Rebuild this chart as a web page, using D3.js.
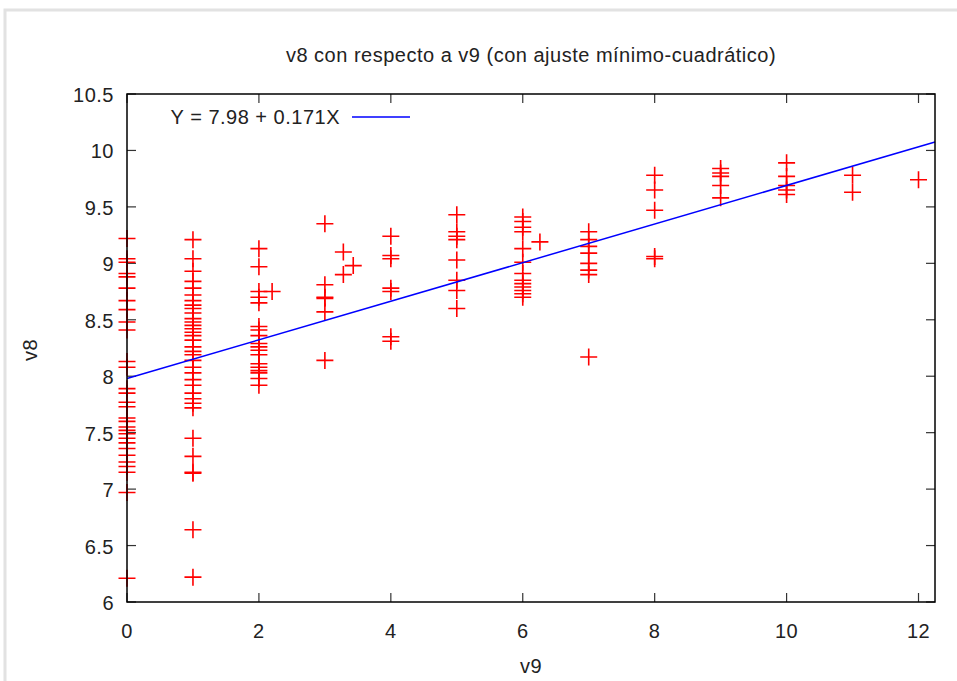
<!DOCTYPE html>
<html>
<head>
<meta charset="utf-8">
<script src="https://cdn.jsdelivr.net/npm/d3@7"></script>
<style>
  body { margin: 0; background: #fff; }
  text { font-family: "Liberation Sans", Arial, sans-serif; fill: #222; font-size: 20px; letter-spacing: 0.5px; }
</style>
</head>
<body>
<div id="chart"></div>
<script>
//************* data ***************/
var v9 = [
  0,0,0,0,0,0,0,0,0,0,0,0,0,0,0,0,0,0,0,0,0,0,0,0,0,0,0,0,0,0,
  1,1,1,1,1,1,1,1,1,1,1,1,1,1,1,1,1,1,1,1,1,1,1,1,1,1,1,1,1,1,1,1,1,1,1,
  2,2,2,2,2,2,2,2,2,2,2,2,2,2,2,2,2,2, 2.2,
  3,3,3,3,3,3, 3.28,3.28, 3.43,
  4,4,4,4,4,4,4,
  5,5,5,5,5,5,5,5,
  6,6,6,6,6,6,6,6,6,6,6,6,6, 6.26,
  7,7,7,7,7,7,7,7,
  8,8,8,8,8,
  9,9,9,9,9,
  10,10,10,10,10,
  11,11,
  12
];
var v8 = [
  9.22,9.04,9.01,8.91,8.88,8.78,8.67,8.59,8.48,8.41,8.13,8.08,7.89,7.85,7.77,7.73,7.63,7.60,7.55,7.52,7.49,7.45,7.41,7.36,7.30,7.24,7.20,7.15,6.97,6.21,
  9.21,9.04,8.93,8.84,8.78,8.72,8.67,8.63,8.60,8.56,8.51,8.48,8.45,8.42,8.39,8.36,8.32,8.26,8.22,8.19,8.14,8.08,8.03,7.97,7.92,7.85,7.80,7.76,7.72,7.45,7.29,7.15,7.14,6.64,6.22,
  9.13,8.97,8.75,8.70,8.65,8.44,8.41,8.36,8.29,8.26,8.23,8.19,8.11,8.08,8.05,8.03,7.98,7.92, 8.75,
  9.35,8.81,8.70,8.69,8.57,8.14, 9.10,8.90, 8.98,
  9.24,9.07,9.04,8.78,8.75,8.35,8.31,
  9.43,9.28,9.24,9.21,9.03,8.85,8.76,8.60,
  9.41,9.37,9.32,9.28,9.13,9.01,8.91,8.85,8.82,8.79,8.76,8.73,8.70, 9.19,
  9.28,9.21,9.15,9.09,9.00,8.94,8.90,8.17,
  9.78,9.65,9.47,9.06,9.04,
  9.84,9.80,9.77,9.69,9.58,
  9.89,9.77,9.69,9.65,9.61,
  9.78,9.63,
  9.74
];

var xTicks = [0, 2, 4, 6, 8, 10, 12];
var yTicks = [6, 6.5, 7, 7.5, 8, 8.5, 9, 9.5, 10, 10.5];
var fitA = 7.98, fitB = 0.171;
var titleText = "v8 con respecto a v9 (con ajuste mínimo-cuadrático)";
var legendText = "Y = 7.98 + 0.171X";

//************* set dimensions ***************/
var W = 957, H = 681;
var margin = {left: 127, right: 22, top: 94, bottom: 79};

var svg = d3.select("#chart").append("svg")
    .attr("width", W).attr("height", H);

// page frame
svg.append("rect")
    .attr("x", 5).attr("y", 10).attr("width", W + 10).attr("height", H + 10)
    .attr("fill", "#fff").attr("stroke", "#e2e2e2").attr("stroke-width", 3);

//************* scales ***************/
var x = d3.scaleLinear().domain([0, 12.25]).range([margin.left, W - margin.right]);
var y = d3.scaleLinear().domain([6, 10.5]).range([H - margin.bottom, margin.top]);

// ticks (inward, mirrored)
var tl = 9;
var g = svg.append("g").attr("stroke", "#333").attr("stroke-width", 1.2);
xTicks.forEach(function(t){
  g.append("line").attr("x1", x(t)).attr("x2", x(t)).attr("y1", y(6)).attr("y2", y(6) - tl);
  g.append("line").attr("x1", x(t)).attr("x2", x(t)).attr("y1", y(10.5)).attr("y2", y(10.5) + tl);
});
yTicks.forEach(function(t){
  g.append("line").attr("x1", x(0)).attr("x2", x(0) + tl).attr("y1", y(t)).attr("y2", y(t));
  g.append("line").attr("x1", x(12.25)).attr("x2", x(12.25) - tl).attr("y1", y(t)).attr("y2", y(t));
});

// tick labels
svg.append("g").selectAll("text").data(xTicks).enter().append("text")
    .attr("x", function(d){ return x(d); })
    .attr("y", y(6) + 36)
    .attr("text-anchor", "middle")
    .text(function(d){ return d; });
svg.append("g").selectAll("text").data(yTicks).enter().append("text")
    .attr("x", x(0) - 13)
    .attr("y", function(d){ return y(d) + 8; })
    .attr("text-anchor", "end")
    .text(function(d){ return d; });

// points
var cs = 8.5;
svg.append("g").selectAll("path").data(v9).enter().append("path")
    .attr("d", function(d, i){
      var px = x(d), py = y(v8[i]);
      return "M" + (px - cs) + "," + py + "H" + (px + cs) + "M" + px + "," + (py - cs) + "V" + (py + cs);
    })
    .attr("stroke", "#ff0000").attr("stroke-width", 1.6).attr("fill", "none");

// fit line
svg.append("line")
    .attr("x1", x(0)).attr("y1", y(fitA))
    .attr("x2", x(12.25)).attr("y2", y(fitA + fitB * 12.25))
    .attr("stroke", "#0000ff").attr("stroke-width", 1.5);

// border
svg.append("rect")
    .attr("x", x(0)).attr("y", y(10.5))
    .attr("width", x(12.25) - x(0)).attr("height", y(6) - y(10.5))
    .attr("fill", "none").attr("stroke", "#000").attr("stroke-width", 1.5);

// legend
svg.append("text").attr("x", 340).attr("y", 124).attr("text-anchor", "end")
    .text(legendText);
svg.append("line").attr("x1", 352).attr("x2", 410).attr("y1", 117).attr("y2", 117)
    .attr("stroke", "#0000ff").attr("stroke-width", 1.5);

// title & axis labels
svg.append("text").attr("x", (x(0) + x(12.25)) / 2).attr("y", 62).attr("text-anchor", "middle")
    .text(titleText);
svg.append("text").attr("x", (x(0) + x(12.25)) / 2).attr("y", 673).attr("text-anchor", "middle")
    .text("v9");
svg.append("text").attr("transform", "translate(37,350) rotate(-90)").attr("text-anchor", "middle")
    .text("v8");
</script>
</body>
</html>
